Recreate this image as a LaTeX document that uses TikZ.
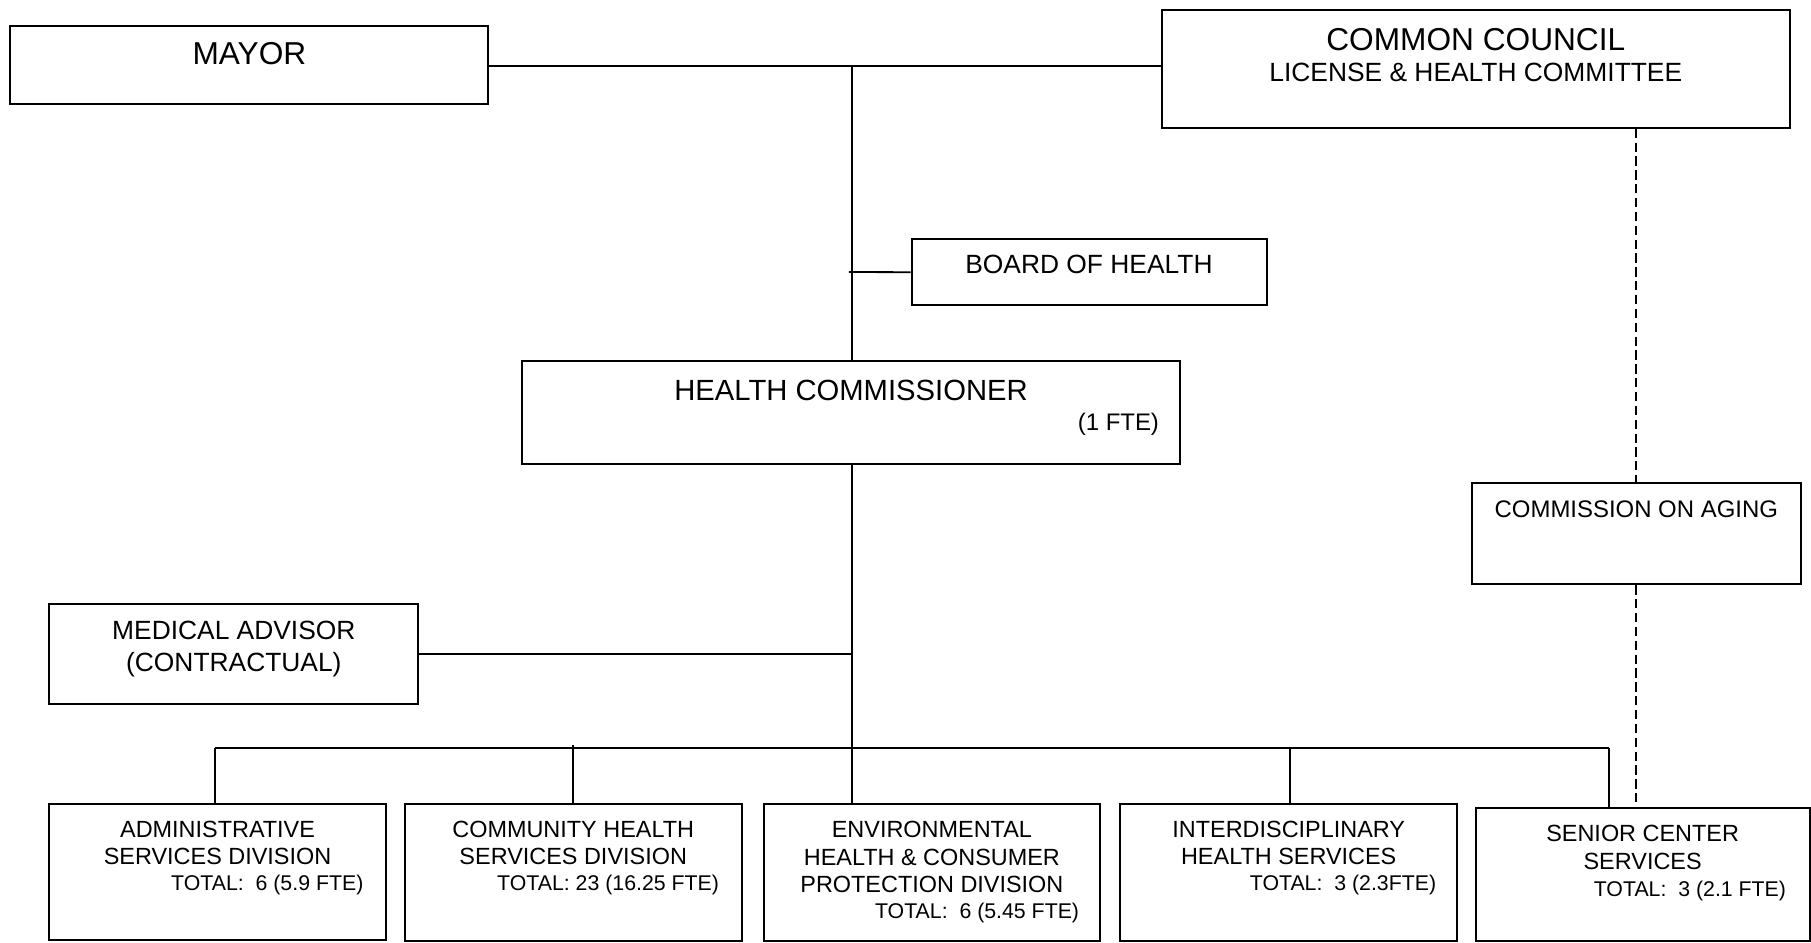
\documentclass[tikz,border=0pt]{standalone}
\usepackage{fontspec}
\setmainfont{Liberation Sans}
\usetikzlibrary{fit}
\newcommand{\fs}[1]{\fontsize{#1}{#1}\selectfont}
\tikzset{
  box/.style={draw=black, line width=1pt, fill=none, inner sep=0pt},
  conn/.style={draw=black, line width=0.9pt},
  dashconn/.style={draw=black, line width=0.9pt, dash pattern=on 0.16cm off 0.08cm},
  txt/.style={inner sep=0pt, anchor=base, text=black},
  txtr/.style={inner sep=0pt, anchor=base east, text=black},
  big/.style={font=\fs{15.6pt}},
  hc/.style={font=\fs{14.4pt}},
  mid/.style={font=\fs{13pt}},
  sm/.style={font=\fs{11.8pt}},
  low/.style={font=\fs{11.55pt}},
  tot/.style={font=\fs{10.5pt}}
}
\begin{document}
\begin{tikzpicture}[x=0.02cm, y=-0.02cm]
\useasboundingbox (0,0) rectangle (1568.3,816.6);
% boxes
\node[box, fit={(9,22.5) (423,90)}] (mayor) {};
\node[box, fit={(1006,9) (1550,110.6)}] (council) {};
\node[box, fit={(789.5,207) (1097,264.5)}] (board) {};
\node[box, fit={(452,313) (1022,402)}] (hcom) {};
\node[box, fit={(42.7,523) (362.3,610)}] (med) {};
\node[box, fit={(1274.5,418.6) (1559.4,506)}] (aging) {};
\node[box, fit={(42.7,696) (334,814)}] (admin) {};
\node[box, fit={(350.5,696) (642.3,815)}] (comm) {};
\node[box, fit={(661.5,696) (952.6,815)}] (env) {};
\node[box, fit={(970.3,696) (1262,815)}] (inter) {};
\node[box, fit={(1278,700) (1567,815)}] (senior) {};
% texts
\node[txt, big] (t1) at (216,55.5) {MAYOR};
\node[txt, big] (t2) at (1278,44) {COMMON COUNCIL};
\node[txt, mid] (t3) at (1278,71) {LICENSE \& HEALTH COMMITTEE};
\node[txt, mid] (t4) at (943,236.7) {BOARD OF HEALTH};
\node[txt, hc] (t5) at (737,346.4) {HEALTH COMMISSIONER};
\node[txtr, sm] (t6) at (1004,373) {(1 FTE)};
\node[txt, sm] (t7) at (1417,448) {COMMISSION ON AGING};
\node[txt, mid] (t8) at (202.5,554.2) {MEDICAL ADVISOR};
\node[txt, mid] (t9) at (202.5,581.5) {(CONTRACTUAL)};
\node[txt, low] (a1) at (188.4,725) {ADMINISTRATIVE};
\node[txt, low] (a2) at (188.4,749) {SERVICES DIVISION};
\node[txtr, tot] (a3) at (315,771) {TOTAL:\ \ 6 (5.9 FTE)};
\node[txt, low] (c1) at (496.4,725) {COMMUNITY HEALTH};
\node[txt, low] (c2) at (496.4,749) {SERVICES DIVISION};
\node[txtr, tot] (c3) at (623,771) {TOTAL: 23 (16.25 FTE)};
\node[txt, low] (e1) at (807,725) {ENVIRONMENTAL};
\node[txt, low] (e2) at (807,749.5) {HEALTH \& CONSUMER};
\node[txt, low] (e3) at (807,773) {PROTECTION DIVISION};
\node[txtr, tot] (e4) at (934.8,795.5) {TOTAL:\ \ 6 (5.45 FTE)};
\node[txt, low] (i1) at (1116,725) {INTERDISCIPLINARY};
\node[txt, low] (i2) at (1116,749) {HEALTH SERVICES};
\node[txtr, tot] (i3) at (1244,771) {TOTAL:\ \ 3 (2.3FTE)};
\node[txt, low] (s1) at (1422.5,729) {SENIOR CENTER};
\node[txt, low] (s2) at (1422.5,753) {SERVICES};
\node[txtr, tot] (s3) at (1547,776) {TOTAL:\ \ 3 (2.1 FTE)};
% junction coordinates
\coordinate (j1) at (738,57);
\coordinate (bstub) at (735,235.5);
\coordinate (j2) at (738,402);
\coordinate (busL) at (186,648);
\coordinate (busC) at (738,648);
\coordinate (busR) at (1393,648);
\coordinate (d2) at (496.5,645);
\coordinate (d4) at (1117,648);
% connectors
\draw[conn] (mayor.east |- j1) -- (j1) -- (j1 -| council.west);
\draw[conn] (j1) -- (j1 |- hcom.north);
\draw[conn] (bstub) -- (board.west);
\draw[conn] (j2) -- (busC);
\draw[conn] (med.east) -- (med.east -| busC);
\draw[conn] (busL) -- (busR);
\draw[conn] (busL) -- (busL |- admin.north);
\draw[conn] (d2) -- (d2 |- comm.north);
\draw[conn] (busC) -- (busC |- env.north);
\draw[conn] (d4) -- (d4 |- inter.north);
\draw[conn] (busR) -- (busR |- senior.north);
\draw[dashconn] (aging.north |- council.south) -- (aging.north);
\draw[dashconn] (aging.south) -- (aging.south |- senior.north);
\end{tikzpicture}
\end{document}
